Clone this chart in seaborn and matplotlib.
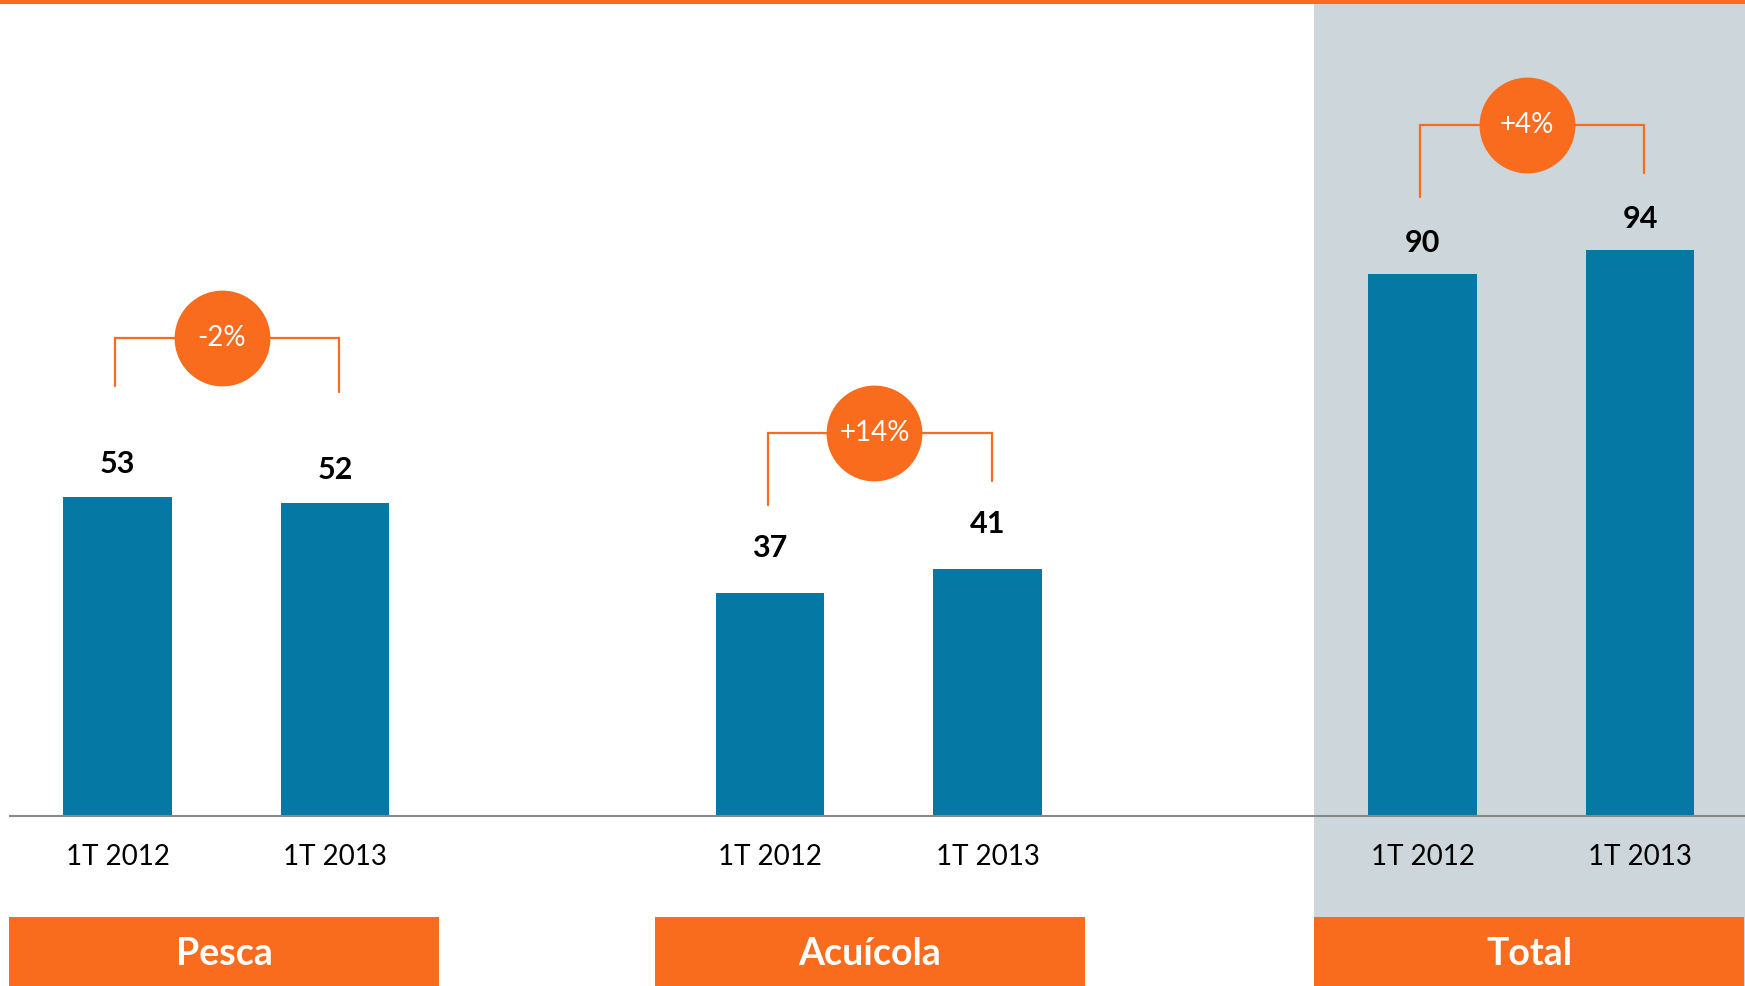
import pandas as pd
import matplotlib.pyplot as plt
from matplotlib.patches import Rectangle
import seaborn as sns

# Data
groups = ["Pesca", "Acuícola", "Total"]
periods = ["1T 2012", "1T 2013"]
values_2012 = [53, 37, 90]
values_2013 = [52, 41, 94]
changes = ["-2%", "+14%", "+4%"]

# Layout / style
BLUE = "#0578A3"
ORANGE = "#F96C1E"
GREY_BG = "#CDD6DA"
bracket_top = [79.4, 63.6, 114.8]      # bracket height (data units)
bracket_gap = [18.5, 14.7, 12.8]       # bracket leg stop above bar
label_gap = [3.1, 5.2, 2.9]            # value label offset above bar

sns.set_theme(style="white")
plt.rcParams["font.family"] = ["Lato", "DejaVu Sans"]

rows = []
for gi, g in enumerate(groups):
    for pj, (p, v) in enumerate(zip(periods, [values_2012[gi], values_2013[gi]])):
        rows.append({"group": g, "period": p, "pos": gi * 3 + pj, "value": v})
df = pd.DataFrame(rows)

W, H = 1745, 986
fig = plt.figure(figsize=(W / 100, H / 100), dpi=100)
ax = fig.add_axes([0, 0, 1, 1])

px_per_unit_x = 217.5
px_per_unit_y = 6.02
x0_px, y0_px = 117.5, 816
xmin, xmax = -x0_px / px_per_unit_x, (W - x0_px) / px_per_unit_x
ymin, ymax = -(H - y0_px) / px_per_unit_y, y0_px / px_per_unit_y

# grey panel behind "Total"
ax.axvspan(5.5, xmax, color=GREY_BG, zorder=0, lw=0)

sns.barplot(data=df, x="pos", y="value", native_scale=True, width=0.5,
            color=BLUE, saturation=1, errorbar=None, linewidth=0,
            ax=ax, zorder=2)

ax.set_xlim(xmin, xmax)
ax.set_ylim(ymin, ymax)
ax.axis("off")

# baseline
ax.hlines(0, -0.5, xmax, color="#888888", lw=1.5, zorder=3)

# top orange strip
ax.add_patch(Rectangle((0, 1 - 4 / H), 1, 4 / H, transform=ax.transAxes,
                       color=ORANGE, lw=0, zorder=5, clip_on=False))

for _, r in df.iterrows():
    gi = groups.index(r["group"])
    ax.text(r["pos"], r["value"] + label_gap[gi], f"{r['value']:.0f}",
            ha="center", va="bottom", fontsize=22, fontweight="bold",
            color="black", zorder=4)
    ax.text(r["pos"], -6.8, r["period"], ha="center", va="center",
            fontsize=20, color="black", zorder=4)

box_left = [-0.5, 2.47, 5.5]
for gi, g in enumerate(groups):
    left, right = gi * 3 - 0.01, gi * 3 + 1.02
    v1, v2 = values_2012[gi], values_2013[gi]
    top = bracket_top[gi]
    ax.plot([left, left, right, right],
            [v1 + bracket_gap[gi], top, top, v2 + bracket_gap[gi]],
            color=ORANGE, lw=1.6, zorder=4, solid_joinstyle="miter")
    cx = gi * 3 + 0.5 - 0.02
    ax.scatter([cx], [top], s=69 ** 2, color=ORANGE, lw=0, zorder=5)
    ax.text(cx, top, changes[gi], ha="center", va="center", fontsize=20,
            color="white", zorder=6)
    width = min(1.98, xmax - box_left[gi])
    ax.add_patch(Rectangle((box_left[gi], ymin), width, -16.8 - ymin,
                           color=ORANGE, lw=0, zorder=3))
    ax.text(box_left[gi] + width / 2, -22.9, g, ha="center", va="center",
            fontsize=27, fontweight="bold", color="white", zorder=4)

fig.savefig("out.png", dpi=100)
